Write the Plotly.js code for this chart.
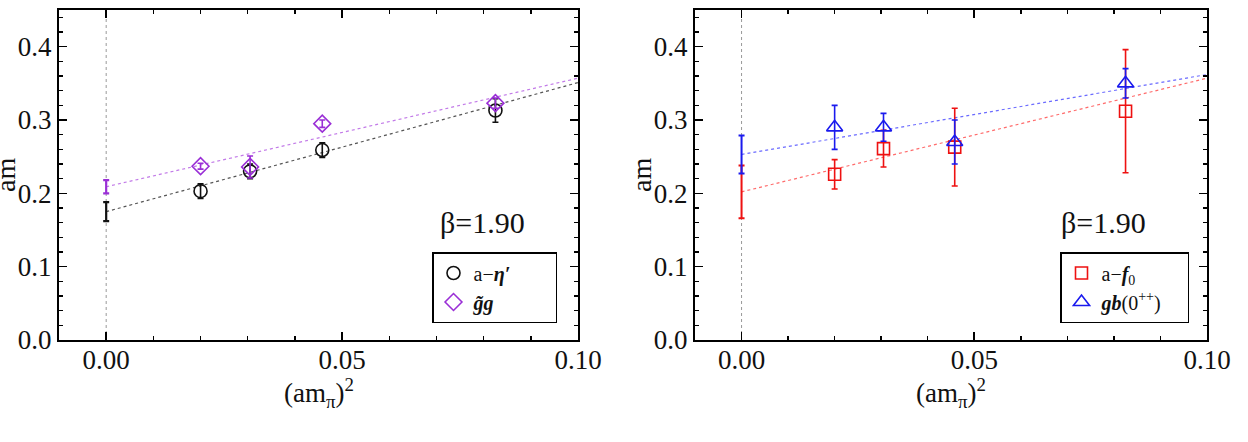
<!DOCTYPE html>
<html>
<head>
<meta charset="utf-8">
<script src="https://cdn.plot.ly/plotly-3.0.1.min.js"></script>
<style>html,body{margin:0;padding:0;background:#fff;}#chart{width:1248px;height:442px;}</style>
</head>
<body>
<div id="chart"></div>
<script>
// ---- data ----
const xMpi2 = [0.0200, 0.0305, 0.0458, 0.0825];
const xChiral = [0];

// left panel
const etaVals = [0.203, 0.230, 0.259, 0.313];
const etaErr  = [0.010, 0.010, 0.010, 0.016];
const etaChiral = [0.175], etaChiralErr = [0.013];
const ggVals = [0.237, 0.236, 0.295, 0.323];
const ggErr  = [0.004, 0.015, 0.005, 0.007];
const ggChiral = [0.209], ggChiralErr = [0.009];
const fitX = [0, 0.10];
const etaFit = [0.175, 0.351];
const ggFit  = [0.209, 0.357];

// right panel
const f0Vals = [0.226, 0.261, 0.263, 0.312];
const f0Err  = [0.020, 0.025, 0.053, 0.084];
const f0Chiral = [0.202], f0ChiralErr = [0.036];
const gbVals = [0.290, 0.290, 0.270, 0.350];
const gbErr  = [0.030, 0.019, 0.030, 0.020];
const gbChiral = [0.253], gbChiralErr = [0.026];
const f0Fit = [0.202, 0.357];
const gbFit = [0.253, 0.362];

const betaLabel = 'β=1.90';
const yTickFmt = '.1f', xTickFmt = '.2f';

// ---- styling ----
const W = 1248, H = 442;
const FONT = '"Liberation Serif", "Times New Roman", Times, serif';
const BLACK = '#111111', VIOLET = '#9a2fd6', RED = '#ee1111', BLUE = '#1a1aee';
const NB = '\u00a0';

function pts(x, y, e, color, symbol, name, xa, ya, leg, size) {
  return {x: x, y: y, type: 'scatter', mode: 'markers', name: name,
    xaxis: xa, yaxis: ya, legend: leg,
    marker: {symbol: symbol, size: size || 13, color: color, line: {color: color, width: 1.6}},
    error_y: {type: 'data', array: e, visible: true, color: color, thickness: 1.6, width: 3}};
}
function chiral(x, y, e, color, xa, ya, th) {
  return {x: x, y: y, type: 'scatter', mode: 'markers', showlegend: false,
    xaxis: xa, yaxis: ya, hoverinfo: 'skip',
    marker: {size: 2, color: 'rgba(0,0,0,0)'},
    error_y: {type: 'data', array: e, visible: true, color: color, thickness: th || 2, width: 3}};
}
function fit(x, y, color, xa, ya) {
  return {x: x, y: y, type: 'scatter', mode: 'lines', showlegend: false,
    xaxis: xa, yaxis: ya, hoverinfo: 'skip',
    line: {color: color, width: 1.2, dash: 'dot'}};
}
function empty(xa, ya) {
  return {x: [], y: [], type: 'scatter', mode: 'markers', showlegend: false, xaxis: xa, yaxis: ya, hoverinfo: 'skip'};
}

const traces = [
  fit(fitX, etaFit, '#555555', 'x', 'y'),
  fit(fitX, ggFit, '#c27ae8', 'x', 'y'),
  chiral(xChiral, etaChiral, etaChiralErr, BLACK, 'x', 'y', 2.2),
  chiral(xChiral, ggChiral, ggChiralErr, VIOLET, 'x', 'y', 2.2),
  pts(xMpi2, etaVals, etaErr, BLACK, 'circle-open', 'a−<b><i>η′</i></b>' + NB.repeat(8), 'x', 'y', 'legend', 13),
  pts(xMpi2, ggVals, ggErr, VIOLET, 'diamond-open', '<b><i>g̃g</i></b>', 'x', 'y', 'legend', 13),

  fit(fitX, f0Fit, '#ff6b6b', 'x2', 'y2'),
  fit(fitX, gbFit, '#6b6bff', 'x2', 'y2'),
  chiral(xChiral, f0Chiral, f0ChiralErr, RED, 'x2', 'y2', 2),
  chiral(xChiral, gbChiral, gbChiralErr, BLUE, 'x2', 'y2', 2),
  pts(xMpi2, f0Vals, f0Err, RED, 'square-open', 'a−<b><i>f</i></b><sub>0</sub>', 'x2', 'y2', 'legend2', 12),
  pts(xMpi2, gbVals, gbErr, BLUE, 'triangle-up-open', '<b><i>gb</i></b>(0<sup>++</sup>)' + NB.repeat(4), 'x2', 'y2', 'legend2', 14),

  empty('x3', 'y3'), empty('x4', 'y4')
];

const TF = {family: FONT, size: 27, color: '#111'};
function xax(domain, anchor, extra) {
  return Object.assign({domain: domain, anchor: anchor, range: [-0.01, 0.10], tick0: 0, dtick: 0.05,
    tickformat: xTickFmt, ticks: 'inside', ticklen: 8, tickwidth: 1.6, tickcolor: 'black',
    minor: {dtick: 0.01, ticks: 'inside', ticklen: 4, tickwidth: 1.4, tickcolor: 'black'},
    ticklabelstandoff: -5,
    showline: true, linewidth: 2, linecolor: 'black', mirror: true,
    showgrid: false, zeroline: false, tickfont: TF}, extra || {});
}
function yax(anchor, extra) {
  return Object.assign({domain: [102 / H, 432 / H], anchor: anchor, range: [0, 0.45], tick0: 0, dtick: 0.1,
    tickformat: yTickFmt, ticks: 'inside', ticklen: 8, tickwidth: 1.6, tickcolor: 'black',
    minor: {dtick: 0.02, ticks: 'inside', ticklen: 4, tickwidth: 1.4, tickcolor: 'black'},
    showline: true, linewidth: 2, linecolor: 'black', mirror: true,
    showgrid: false, zeroline: false, tickfont: TF}, extra || {});
}

const xD1 = [59 / W, 578 / W], xD2 = [695 / W, 1207 / W];
const xTitle = '(am<sub>π</sub>)<sup>2</sup>';
const LF = {family: FONT, size: 20, color: '#111'};

const layout = {
  width: W, height: H,
  margin: {l: 0, r: 0, t: 0, b: 0},
  paper_bgcolor: 'white', plot_bgcolor: 'white',
  font: {family: FONT, color: '#111'},
  xaxis: xax(xD1, 'y'), yaxis: yax('x'),
  xaxis2: xax(xD2, 'y2'), yaxis2: yax('x2'),
  // mirrored tick sets (top / right) incl. minor ticks
  xaxis3: xax(xD1, 'y', {overlaying: 'x', side: 'top', showticklabels: false, showline: false}),
  yaxis3: yax('x', {overlaying: 'y', side: 'right', showticklabels: false, showline: false}),
  xaxis4: xax(xD2, 'y2', {overlaying: 'x2', side: 'top', showticklabels: false, showline: false}),
  yaxis4: yax('x2', {overlaying: 'y2', side: 'right', showticklabels: false, showline: false}),
  legend: {x: 432 / W, y: (H - 252) / H, xanchor: 'left', yanchor: 'top',
    bgcolor: 'white', bordercolor: 'black', borderwidth: 1.5,
    font: LF, tracegroupgap: 0, itemwidth: 30},
  legend2: {x: 1060 / W, y: (H - 252) / H, xanchor: 'left', yanchor: 'top',
    bgcolor: 'white', bordercolor: 'black', borderwidth: 1.5,
    font: LF, tracegroupgap: 0, itemwidth: 30},
  shapes: [
    {type: 'line', xref: 'x', yref: 'y domain', x0: 0, x1: 0, y0: 0, y1: 1,
      line: {color: '#999', width: 1, dash: 'dot'}, layer: 'below'},
    {type: 'line', xref: 'x2', yref: 'y2 domain', x0: 0, x1: 0, y0: 0, y1: 1,
      line: {color: '#999', width: 1, dash: 'dot'}, layer: 'below'}
  ],
  annotations: [
    {text: betaLabel, xref: 'x', yref: 'y', x: 0.0797, y: 0.160, showarrow: false,
      font: {family: FONT, size: 30, color: '#111'}},
    {text: betaLabel, xref: 'x2', yref: 'y2', x: 0.0778, y: 0.160, showarrow: false,
      font: {family: FONT, size: 30, color: '#111'}},
    {text: 'am', xref: 'paper', yref: 'paper', x: 5 / W, y: (H - 175) / H, textangle: -90,
      showarrow: false, xanchor: 'center', yanchor: 'middle', font: {family: FONT, size: 28, color: '#111'}},
    {text: 'am', xref: 'paper', yref: 'paper', x: 641 / W, y: (H - 175) / H, textangle: -90,
      showarrow: false, xanchor: 'center', yanchor: 'middle', font: {family: FONT, size: 28, color: '#111'}},
    {text: xTitle, xref: 'paper', yref: 'paper', x: 319 / W, y: (H - 393) / H,
      showarrow: false, xanchor: 'center', yanchor: 'middle', font: {family: FONT, size: 27, color: '#111'}},
    {text: xTitle, xref: 'paper', yref: 'paper', x: 951 / W, y: (H - 393) / H,
      showarrow: false, xanchor: 'center', yanchor: 'middle', font: {family: FONT, size: 27, color: '#111'}}
  ]
};

Plotly.newPlot('chart', traces, layout, {displayModeBar: false, staticPlot: true});
</script>
</body>
</html>
